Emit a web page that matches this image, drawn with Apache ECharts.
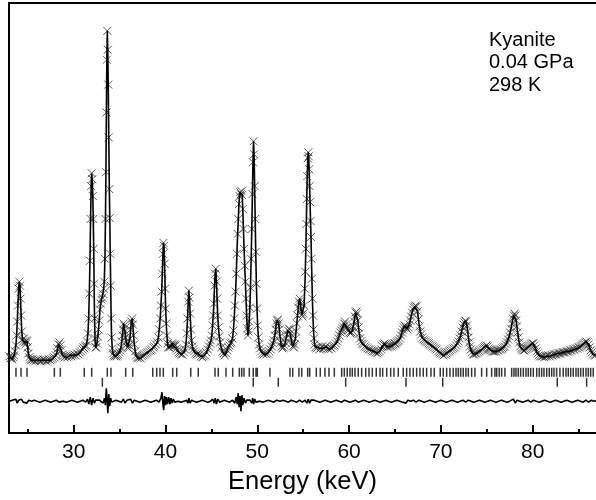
<!DOCTYPE html>
<html>
<head>
<meta charset="utf-8">
<script src="https://cdn.jsdelivr.net/npm/echarts@6/dist/echarts.min.js"></script>
<style>
  html, body { margin: 0; padding: 0; background: #fff; }
  #kyaniteChart { width: 596px; height: 500px; }
</style>
</head>
<body>
<div id="kyaniteChart"></div>
<script>
// observed intensity (arb. units) vs energy (keV)
const observed = [
  [23.0,77],[23.1,75],[23.2,76],[23.3,74],[23.4,76],[23.5,78],[23.6,82],[23.7,88],[23.78,98],[23.85,112],
  [23.92,128],[24.0,145],[24.07,152],[24.14,148],[24.2,135],[24.27,118],[24.34,102],[24.42,94],[24.5,92],[24.58,95],
  [24.66,91],[24.74,89],[24.82,93],[24.9,92],[24.98,86],[25.06,80],[25.15,76],[25.25,74],[25.35,73],[25.5,74],
  [25.65,73],[25.8,72],[25.95,73],[26.1,74],[26.25,73],[26.4,72],[26.55,73],[26.7,74],[26.85,73],[27.0,72],
  [27.15,73],[27.3,74],[27.45,73],[27.6,74],[27.75,75],[27.9,76],[28.05,78],[28.15,81],[28.25,85],[28.35,89],
  [28.45,91],[28.55,88],[28.65,83],[28.75,79],[28.85,77],[29.0,76],[29.15,77],[29.3,76],[29.45,77],[29.6,78],
  [29.75,77],[29.9,78],[30.05,79],[30.2,78],[30.35,80],[30.5,79],[30.65,81],[30.8,82],[30.95,84],[31.05,86],
  [31.15,85],[31.25,87],[31.35,88],[31.45,92],[31.55,100],[31.63,115],[31.7,140],[31.77,173],[31.84,215],[31.9,248],
  [31.96,261],[32.02,255],[32.08,238],[32.13,215],[32.18,185],[32.22,150],[32.27,115],[32.32,95],[32.38,86],[32.45,86],
  [32.53,90],[32.62,97],[32.7,104],[32.78,113],[32.86,124],[32.94,130],[33.02,134],[33.1,136],[33.18,140],[33.26,145],
  [33.33,152],[33.4,175],[33.46,215],[33.51,262],[33.56,322],[33.61,375],[33.66,404],[33.71,385],[33.76,350],[33.82,297],
  [33.88,245],[33.93,216],[33.98,180],[34.03,148],[34.08,115],[34.13,96],[34.2,85],[34.28,80],[34.36,78],[34.45,77],
  [34.55,78],[34.65,77],[34.75,78],[34.85,79],[34.95,81],[35.05,83],[35.15,86],[35.23,92],[35.3,98],[35.37,104],
  [35.44,110],[35.51,108],[35.58,102],[35.65,96],[35.72,92],[35.8,89],[35.88,86],[35.96,85],[36.04,88],[36.12,95],
  [36.2,104],[36.28,112],[36.36,115],[36.44,109],[36.52,98],[36.6,89],[36.7,82],[36.8,78],[36.9,76],[37.0,75],
  [37.15,76],[37.3,75],[37.45,77],[37.6,78],[37.75,79],[37.9,80],[38.05,81],[38.2,82],[38.35,83],[38.5,84],
  [38.65,86],[38.8,87],[38.95,89],[39.1,91],[39.22,96],[39.32,104],[39.42,115],[39.5,128],[39.58,142],[39.65,160],
  [39.72,180],[39.78,191],[39.84,188],[39.9,170],[39.96,145],[40.02,125],[40.08,110],[40.15,98],[40.22,90],[40.3,86],
  [40.4,86],[40.5,88],[40.6,87],[40.7,90],[40.8,89],[40.9,87],[41.0,89],[41.1,88],[41.2,85],[41.3,83],
  [41.42,81],[41.55,80],[41.7,79],[41.85,79],[42.0,81],[42.12,84],[42.22,89],[42.32,100],[42.4,115],[42.47,132],
  [42.54,143],[42.61,136],[42.68,120],[42.76,104],[42.84,93],[42.93,87],[43.02,84],[43.12,82],[43.25,80],[43.4,79],
  [43.55,80],[43.7,79],[43.85,77],[44.0,76],[44.15,77],[44.3,78],[44.45,81],[44.6,84],[44.72,87],[44.84,90],
  [44.95,93],[45.05,98],[45.13,108],[45.2,118],[45.27,130],[45.34,148],[45.41,160],[45.48,165],[45.55,152],[45.62,135],
  [45.69,118],[45.77,106],[45.86,97],[45.96,91],[46.07,86],[46.2,82],[46.33,80],[46.46,78],[46.6,80],[46.72,83],
  [46.84,86],[46.96,88],[47.08,90],[47.2,91],[47.3,95],[47.4,103],[47.48,115],[47.56,128],[47.64,142],[47.71,160],
  [47.78,180],[47.86,200],[47.93,215],[48.0,230],[48.07,238],[48.14,242],[48.21,240],[48.28,243],[48.35,239],[48.42,225],
  [48.49,205],[48.56,185],[48.63,168],[48.7,152],[48.77,135],[48.84,118],[48.91,105],[48.98,98],[49.05,102],[49.12,112],
  [49.19,126],[49.26,146],[49.33,175],[49.4,205],[49.47,240],[49.53,272],[49.59,293],[49.65,280],[49.71,248],[49.77,215],
  [49.83,182],[49.9,150],[49.97,125],[50.04,108],[50.12,96],[50.2,89],[50.3,85],[50.42,82],[50.55,80],[50.7,79],
  [50.85,80],[51.0,79],[51.15,80],[51.3,82],[51.45,84],[51.58,87],[51.7,90],[51.8,93],[51.9,98],[52.0,104],
  [52.08,110],[52.16,113],[52.24,114],[52.32,110],[52.4,104],[52.48,97],[52.56,91],[52.64,87],[52.74,85],[52.84,86],
  [52.94,88],[53.04,91],[53.14,95],[53.24,99],[53.34,103],[53.44,105],[53.52,104],[53.6,100],[53.68,95],[53.78,90],
  [53.88,87],[53.98,86],[54.07,89],[54.15,95],[54.22,102],[54.3,110],[54.38,118],[54.46,126],[54.54,132],[54.62,135],
  [54.7,130],[54.78,124],[54.86,119],[54.94,117],[55.02,120],[55.1,128],[55.17,145],[55.23,162],[55.29,185],[55.34,210],
  [55.39,235],[55.44,258],[55.5,276],[55.55,282],[55.6,278],[55.65,265],[55.7,248],[55.75,232],[55.8,213],[55.85,197],
  [55.9,175],[55.95,155],[56.0,135],[56.06,118],[56.12,104],[56.18,95],[56.25,89],[56.33,86],[56.45,85],[56.6,86],
  [56.75,84],[56.9,85],[57.05,87],[57.2,85],[57.35,86],[57.5,87],[57.65,85],[57.8,84],[57.95,86],[58.1,85],
  [58.25,87],[58.4,88],[58.55,90],[58.7,92],[58.82,95],[58.94,98],[59.05,101],[59.15,103],[59.25,105],[59.35,107],
  [59.45,110],[59.55,112],[59.65,109],[59.75,106],[59.85,104],[59.95,103],[60.05,101],[60.15,100],[60.25,101],[60.35,103],
  [60.45,107],[60.55,112],[60.63,117],[60.71,121],[60.79,122],[60.87,120],[60.95,113],[61.03,106],[61.11,100],[61.2,95],
  [61.3,92],[61.42,90],[61.55,89],[61.7,87],[61.85,86],[62.0,85],[62.15,84],[62.3,84],[62.45,83],[62.6,82],
  [62.75,82],[62.9,81],[63.05,80],[63.2,81],[63.35,82],[63.5,84],[63.62,87],[63.74,89],[63.86,90],[63.98,89],
  [64.1,87],[64.22,86],[64.34,87],[64.46,88],[64.58,87],[64.7,88],[64.82,89],[64.94,90],[65.06,90],[65.18,91],
  [65.3,92],[65.42,93],[65.54,95],[65.66,98],[65.76,101],[65.86,104],[65.96,106],[66.06,108],[66.16,107],[66.26,105],
  [66.36,104],[66.46,106],[66.56,109],[66.66,113],[66.76,117],[66.86,121],[66.96,124],[67.06,126],[67.16,127],[67.26,128],
  [67.36,127],[67.46,122],[67.56,114],[67.66,107],[67.76,102],[67.86,99],[67.98,96],[68.1,94],[68.24,93],[68.38,92],
  [68.52,91],[68.66,90],[68.8,89],[68.95,88],[69.1,87],[69.25,86],[69.4,85],[69.55,84],[69.7,82],[69.85,81],
  [70.0,80],[70.15,79],[70.3,78],[70.45,79],[70.6,80],[70.75,81],[70.9,82],[71.05,83],[71.2,84],[71.35,85],
  [71.5,86],[71.64,88],[71.78,90],[71.92,92],[72.04,95],[72.15,98],[72.26,102],[72.36,106],[72.46,109],[72.56,111],
  [72.66,113],[72.75,112],[72.84,108],[72.92,102],[73.0,96],[73.08,91],[73.16,87],[73.26,84],[73.38,81],[73.5,79],
  [73.62,79],[73.75,80],[73.9,80],[74.05,81],[74.2,82],[74.35,83],[74.5,84],[74.62,85],[74.74,86],[74.86,87],
  [74.98,88],[75.1,87],[75.22,85],[75.34,84],[75.46,83],[75.58,82],[75.72,82],[75.86,82],[76.0,82],[76.14,83],
  [76.28,83],[76.42,84],[76.56,84],[76.7,85],[76.84,86],[76.96,87],[77.08,89],[77.2,91],[77.32,94],[77.44,97],
  [77.54,101],[77.64,105],[77.74,110],[77.84,115],[77.94,118],[78.04,120],[78.12,118],[78.2,113],[78.28,107],[78.36,101],
  [78.44,96],[78.54,91],[78.64,87],[78.74,85],[78.86,84],[78.98,83],[79.1,83],[79.22,84],[79.34,85],[79.46,86],
  [79.58,87],[79.7,88],[79.82,89],[79.94,90],[80.06,90],[80.18,88],[80.3,85],[80.42,82],[80.54,80],[80.66,78],
  [80.8,77],[80.95,77],[81.1,77],[81.25,76],[81.4,77],[81.55,77],[81.7,78],[81.85,77],[82.0,78],[82.15,78],
  [82.3,79],[82.45,79],[82.6,79],[82.75,80],[82.9,80],[83.05,80],[83.2,81],[83.35,81],[83.5,81],[83.65,82],
  [83.8,82],[83.95,82],[84.1,83],[84.25,83],[84.4,84],[84.55,84],[84.7,85],[84.85,85],[85.0,86],[85.12,86],
  [85.24,87],[85.36,88],[85.48,89],[85.6,90],[85.72,91],[85.84,92],[85.96,91],[86.08,89],[86.2,86],[86.32,83],
  [86.44,81],[86.56,79],[86.7,78],[86.85,78]
];

// observed - calculated
const difference = [
  [23.0,0],[23.3,1],[23.5,-1],[23.7,2],[23.85,-2],[24.0,1],[24.15,-1],[24.3,2],[24.5,-1],[24.7,1],
  [24.9,-2],[25.1,1],[25.4,0],[25.7,1],[26.0,0],[26.3,-1],[26.6,0],[26.9,1],[27.2,0],[27.5,-1],
  [27.8,0],[28.1,1],[28.4,-1],[28.6,1],[28.9,0],[29.2,-1],[29.5,0],[29.8,1],[30.1,0],[30.4,-1],
  [30.7,0],[31.0,1],[31.3,-1],[31.5,2],[31.65,-3],[31.8,4],[31.95,-4],[32.1,3],[32.25,-2],[32.4,1],
  [32.6,-1],[32.8,1],[33.0,0],[33.2,-2],[33.35,3],[33.45,-4],[33.55,13],[33.63,2],[33.72,-12],[33.82,7],
  [33.92,-5],[34.02,3],[34.15,-1],[34.3,0],[34.6,1],[34.9,0],[35.2,-1],[35.4,2],[35.6,-2],[35.8,1],
  [36.0,0],[36.2,2],[36.4,-2],[36.6,1],[36.9,0],[37.2,-1],[37.5,0],[37.8,1],[38.1,0],[38.4,-1],
  [38.7,0],[39.0,1],[39.3,-1],[39.5,3],[39.62,9],[39.72,-3],[39.8,-9],[39.9,5],[40.0,-4],[40.1,4],
  [40.22,-3],[40.35,4],[40.48,-3],[40.6,3],[40.72,-2],[40.85,2],[41.0,-1],[41.2,1],[41.4,0],[41.7,-1],
  [42.0,0],[42.3,1],[42.45,-2],[42.55,3],[42.68,-2],[42.85,1],[43.1,0],[43.4,-1],[43.7,0],[44.0,1],
  [44.3,0],[44.6,-1],[44.9,0],[45.15,2],[45.3,-2],[45.42,3],[45.55,-3],[45.7,2],[45.9,-1],[46.1,0],
  [46.4,1],[46.7,0],[47.0,-1],[47.3,1],[47.55,-2],[47.7,4],[47.82,-3],[47.92,8],[48.02,-6],[48.12,5],
  [48.22,-10],[48.32,6],[48.42,-4],[48.55,3],[48.7,-2],[48.85,1],[49.0,-1],[49.2,1],[49.4,-2],[49.5,3],
  [49.6,-3],[49.72,2],[49.85,-1],[50.0,1],[50.3,0],[50.6,-1],[50.9,0],[51.2,1],[51.5,0],[51.8,-1],
  [52.1,1],[52.3,-1],[52.5,0],[52.8,1],[53.1,0],[53.4,-1],[53.7,1],[54.0,0],[54.3,-1],[54.6,1],
  [54.9,-1],[55.2,1],[55.4,-2],[55.55,2],[55.7,-2],[55.85,1],[56.0,-1],[56.2,1],[56.5,0],[56.8,-1],
  [57.1,0],[57.4,1],[57.7,0],[58.0,-1],[58.3,0],[58.6,1],[58.9,0],[59.2,-1],[59.5,1],[59.8,0],
  [60.1,-1],[60.4,0],[60.7,1],[61.0,-1],[61.3,0],[61.6,1],[61.9,0],[62.2,-1],[62.5,0],[62.8,1],
  [63.1,0],[63.4,-1],[63.7,0],[64.0,1],[64.3,0],[64.6,-1],[64.9,0],[65.2,1],[65.5,0],[65.8,-1],
  [66.0,1],[66.2,-2],[66.4,1],[66.7,0],[67.0,1],[67.3,-1],[67.6,1],[67.9,0],[68.2,-1],[68.5,0],
  [68.8,1],[69.1,0],[69.4,-1],[69.7,0],[70.0,1],[70.3,0],[70.6,-1],[70.9,0],[71.2,1],[71.5,0],
  [71.8,-1],[72.1,0],[72.4,1],[72.7,-1],[73.0,1],[73.3,0],[73.6,-1],[73.9,0],[74.2,1],[74.5,0],
  [74.8,-1],[75.1,0],[75.4,1],[75.7,0],[76.0,-1],[76.3,0],[76.6,1],[76.9,0],[77.2,-1],[77.5,0],
  [77.7,-1],[77.9,2],[78.1,-2],[78.3,1],[78.6,0],[78.9,-1],[79.2,0],[79.5,1],[79.8,-1],[80.1,1],
  [80.4,0],[80.7,-1],[81.0,0],[81.3,1],[81.6,0],[81.9,-1],[82.2,0],[82.5,1],[82.8,0],[83.1,-1],
  [83.4,0],[83.7,1],[84.0,0],[84.3,-1],[84.6,0],[84.9,1],[85.2,0],[85.5,-1],[85.8,1],[86.1,-1],
  [86.4,1],[86.7,0],[86.9,0]
];

// reflection positions (keV)
const kyaniteRefl = [
  23.71, 24.26, 24.91, 27.89, 28.54, 31.15, 31.96, 33.66, 34.06, 35.66, 36.43,
  38.61, 39.04, 39.4, 39.76, 40.78, 41.22, 42.75, 43.57, 45.39, 45.75, 46.59, 47.32,
  48.04, 48.3, 48.55, 49.13, 49.56, 49.86, 50.0, 51.38, 53.56, 53.86,
  54.54, 54.84, 55.49, 55.71, 56.43, 56.86, 57.37, 57.81, 58.39, 59.19, 59.48, 59.8,
  60.1, 60.35, 60.64, 61.0, 61.37, 61.81, 62.17, 62.53, 62.96, 63.37, 63.66, 64.1,
  64.53, 64.89, 65.36, 65.9, 66.27, 66.63, 66.99, 67.36, 67.72, 68.08, 68.45, 68.92,
  69.28, 69.93, 70.26, 70.63, 70.99, 71.35, 71.65, 71.9, 72.16, 72.44, 72.73, 72.99,
  73.35, 73.71, 74.44, 74.99, 75.53, 75.89, 76.08, 76.36, 76.62, 76.98, 77.71, 77.96,
  78.18, 78.43, 78.69, 78.98, 79.27, 79.52, 79.78, 80.07, 80.44, 80.72, 80.98, 81.23,
  81.53, 81.81, 82.07, 82.32, 82.61, 82.97, 83.33, 83.63, 83.88, 84.14, 84.42, 84.72,
  84.97, 85.23, 85.51, 85.81, 86.06, 86.32, 86.6
];
const secondRefl = [33.12, 49.56, 52.29, 59.63, 66.2, 70.2, 82.68, 85.88];

const majorTicks = [30, 40, 50, 60, 70, 80];
const minorTicks = [25, 35, 45, 55, 65, 75, 85];

const annotation = ['Kyanite', '0.04 GPa', '298 K'];

const FONT = 'Liberation Sans, Arial, Helvetica, sans-serif';
const ROW1 = 61, ROW2 = 51, DIFF_BASE = 32;

let myChart = echarts.init(document.getElementById('kyaniteChart'));

const xMin = 22.95, xMax = 86.9;

let option = {
  animation: false,
  grid: { left: 9, right: 0, top: 3, bottom: 65 },
  xAxis: [
    {
      type: 'value', min: xMin, max: xMax, position: 'bottom',
      axisLine: { onZero: false, lineStyle: { color: '#000', width: 2 } },
      axisTick: { inside: true, length: 8, customValues: majorTicks, lineStyle: { color: '#000', width: 2 } },
      axisLabel: { customValues: majorTicks, color: '#000', fontSize: 21, fontFamily: FONT, margin: 9 },
      splitLine: { show: false },
      name: 'Energy (keV)', nameLocation: 'middle', nameGap: 36,
      nameTextStyle: { color: '#000', fontSize: 25.5, fontFamily: FONT }
    },
    {
      // minor ticks
      type: 'value', min: xMin, max: xMax, position: 'bottom',
      axisLine: { show: false, onZero: false },
      axisTick: { inside: true, length: 4, customValues: minorTicks, lineStyle: { color: '#000', width: 2 } },
      axisLabel: { show: false },
      splitLine: { show: false }
    },
    {
      // top frame line
      type: 'value', min: xMin, max: xMax, position: 'top',
      axisLine: { onZero: false, lineStyle: { color: '#000', width: 2 } },
      axisTick: { show: false },
      axisLabel: { show: false },
      splitLine: { show: false }
    }
  ],
  yAxis: {
    type: 'value', min: 0, max: 432,
    axisLine: { show: true, onZero: false, lineStyle: { color: '#000', width: 2 } },
    axisTick: { show: false },
    axisLabel: { show: false },
    splitLine: { show: false }
  },
  graphic: [
    {
      type: 'text', left: 489, top: 29,
      style: { text: annotation.join('\n'), font: '20px ' + FONT, lineHeight: 22.5, fill: '#000' }
    }
  ],
  series: [
    {
      name: 'obs', type: 'scatter', data: observed, z: 2,
      symbol: 'path://M0,0L10,10M10,0L0,10', symbolSize: 8,
      itemStyle: { color: 'rgba(0,0,0,0)', borderColor: '#333', borderWidth: 1 },
      silent: true
    },
    {
      name: 'calc', type: 'line', data: observed, z: 3,
      showSymbol: false, symbol: 'none',
      lineStyle: { color: '#000', width: 1.6 },
      silent: true
    },
    {
      name: 'kyanite', type: 'scatter', z: 3,
      data: kyaniteRefl.map(e => [e, ROW1]),
      symbol: 'rect', symbolSize: [1.5, 9],
      itemStyle: { color: '#000' }, silent: true
    },
    {
      name: 'second', type: 'scatter', z: 3,
      data: secondRefl.map(e => [e, ROW2]),
      symbol: 'rect', symbolSize: [1.5, 9],
      itemStyle: { color: '#000' }, silent: true
    },
    {
      name: 'diff', type: 'line', z: 3,
      data: difference.map(([e, d]) => [e, DIFF_BASE + d]),
      showSymbol: false, symbol: 'none',
      lineStyle: { color: '#000', width: 1.6 },
      silent: true
    }
  ]
};
myChart.setOption(option);
</script>
</body>
</html>
